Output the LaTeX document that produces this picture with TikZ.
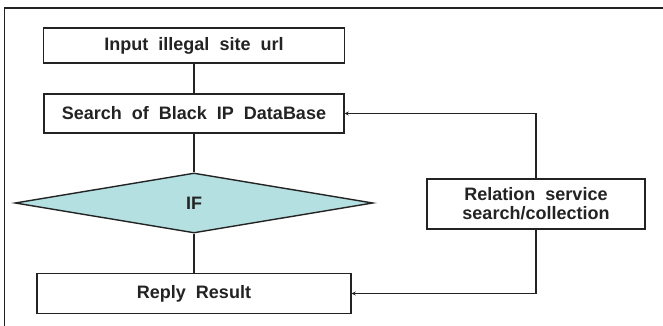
\documentclass[tikz,border=0pt]{standalone}
\usepackage{fontspec}
\setmainfont[WordSpace=2]{Liberation Sans}
\usetikzlibrary{shapes.geometric,arrows.meta}
\definecolor{linegray}{RGB}{35,35,35}
\definecolor{textgray}{RGB}{35,35,35}
\definecolor{ifcyan}{RGB}{180,224,226}
\begin{document}
\begin{tikzpicture}[x=1pt,y=1pt,
  every node/.style={font=\fontsize{18}{19}\selectfont\bfseries, text=textgray},
  procbox/.style={draw=linegray, line width=1.4pt, fill=white, rectangle, inner sep=0pt, align=center},
  decbox/.style={draw=linegray, line width=1.4pt, fill=ifcyan, diamond, inner sep=0pt},
  link/.style={draw=linegray, line width=1.4pt},
  arrowlink/.style={link, -{Stealth[length=4pt,width=4pt]}}
]
\useasboundingbox (0,0) rectangle (663,-326);
% outer frame (only top and left edges visible)
\draw[linegray, line width=1.6pt] (4.5,-326) -- (4.5,-8) -- (663,-8);

\node[procbox, minimum width=301pt, minimum height=35pt] (inp) at (194,-45.5) {Input illegal site url};
\node[procbox, minimum width=300pt, minimum height=39pt] (srch) at (194,-113.5) {Search of Black IP DataBase};
\node[decbox, minimum width=358pt, minimum height=60pt] (if) at (194,-203) {IF};
\node[procbox, minimum width=314pt, minimum height=40pt] (reply) at (194,-293.5) {Reply Result};
\node[procbox, minimum width=218pt, minimum height=50pt] (rel) at (536,-204) {Relation service\\search/collection};

\draw[link] (inp.south) -- (srch.north);
\draw[link] (srch.south) -- (if.north);
\draw[link] (if.south) -- (reply.north);
\draw[arrowlink] (rel.north) |- (srch.east);
\draw[arrowlink] (rel.south) |- (reply.east);
\end{tikzpicture}
\end{document}
